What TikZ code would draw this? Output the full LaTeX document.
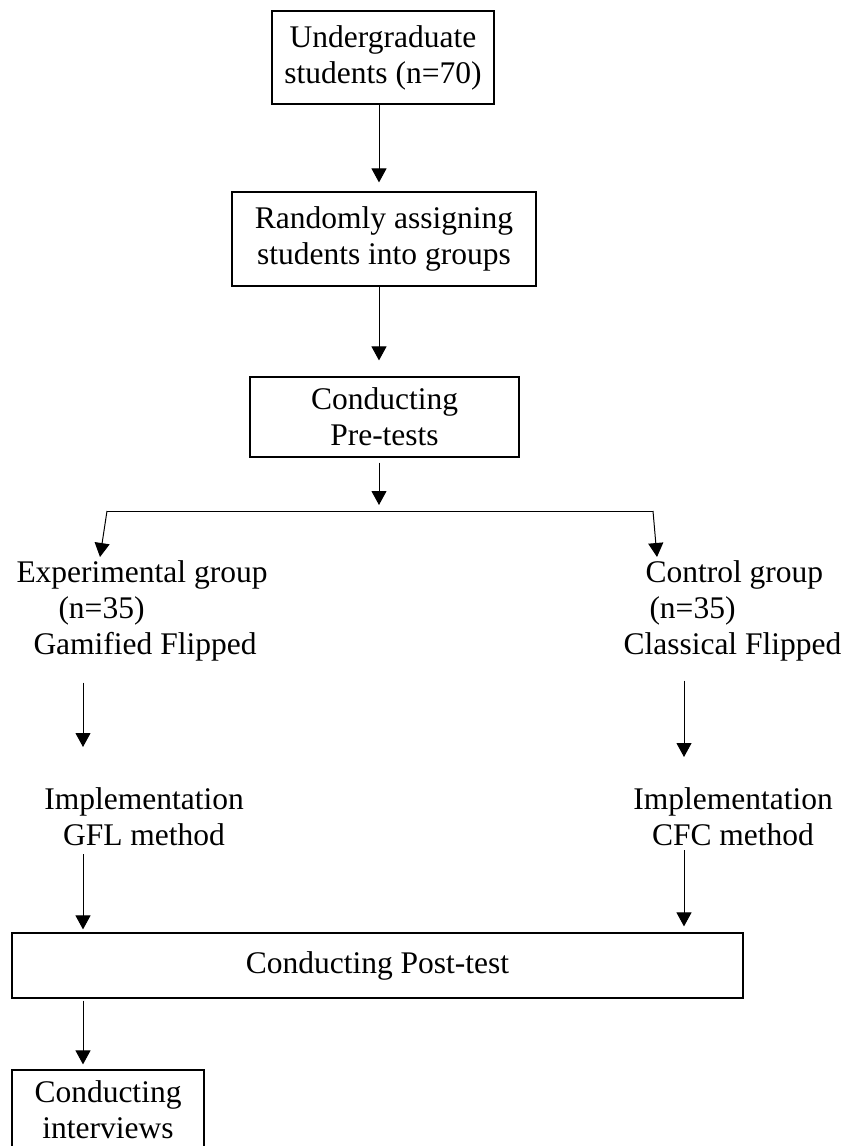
\documentclass[tikz,border=0pt]{standalone}
\usepackage{fontspec}
\setmainfont{Liberation Serif}
\usetikzlibrary{arrows.meta}

\begin{document}
\begin{tikzpicture}[>={Triangle[length=14pt,width=15pt]},x=1pt,y=-1pt,line width=1pt,every node/.style={font=\fontsize{31.5}{36}\selectfont,inner sep=0pt},box/.style={draw,line width=1.2pt,align=center}]
\useasboundingbox (0,0) rectangle (848,1146);
\node[box,minimum width=222pt,minimum height=93pt] (u) at (383,57.5) {Undergraduate\\students (n=70)};
\node[box,minimum width=304pt,minimum height=94pt] (r) at (384,239) {Randomly assigning\\students into groups};
\node[box,minimum width=269pt,minimum height=80pt] (p) at (384.5,417) {Conducting\\Pre-tests};
\node[align=left,anchor=north west] (eg) at (16,560) {Experimental group\\\hspace*{42pt}(n=35)\\\hspace*{17pt}Gamified Flipped};
\node[align=left,anchor=north west] (cg) at (623,560) {\hspace*{22pt}Control group\\\hspace*{26pt}(n=35)\\Classical Flipped};
\node[align=center,anchor=north] (gi) at (144,787) {Implementation\\GFL method};
\node[align=center,anchor=north] (ci) at (733,787) {Implementation\\CFC method};
\node[box,minimum width=731pt,minimum height=65pt] (t) at (377.5,965.5) {Conducting Post-test};
\node[box,minimum width=192pt,minimum height=80pt] (iv) at (108,1110) {Conducting\\interviews};
\coordinate (lx) at (83,0); \coordinate (rx) at (684,0);
\coordinate (bm) at (379,511); \coordinate (bl) at (107,511); \coordinate (bR) at (653,511);
\draw[->,shorten >=9pt] (bm |- u.south) -- (bm |- r.north);
\draw[->,shorten >=16pt] (bm |- r.south) -- (bm |- p.north);
\draw[->,shorten <=5pt,shorten >=6pt] (bm |- p.south) -- (bm);
\draw (bl) -- (bR);
\draw[->] (bl) -- ([xshift=84pt,yshift=3pt]eg.north west);
\draw[->] (bR) -- ([xshift=34pt,yshift=3pt]cg.north west);
\draw[->,shorten <=21pt,shorten >=40pt] (lx |- eg.south) -- (lx |- gi.north);
\draw[->,shorten <=19pt,shorten >=30pt] (rx |- cg.south) -- (rx |- ci.north);
\draw[->,shorten <=8pt,shorten >=3pt] (lx |- gi.south) -- (lx |- t.north);
\draw[->,shorten <=4pt,shorten >=6pt] (rx |- ci.south) -- (rx |- t.north);
\draw[->,shorten <=2pt,shorten >=5pt] (lx |- t.south) -- (lx |- iv.north);
\end{tikzpicture}
\end{document}
